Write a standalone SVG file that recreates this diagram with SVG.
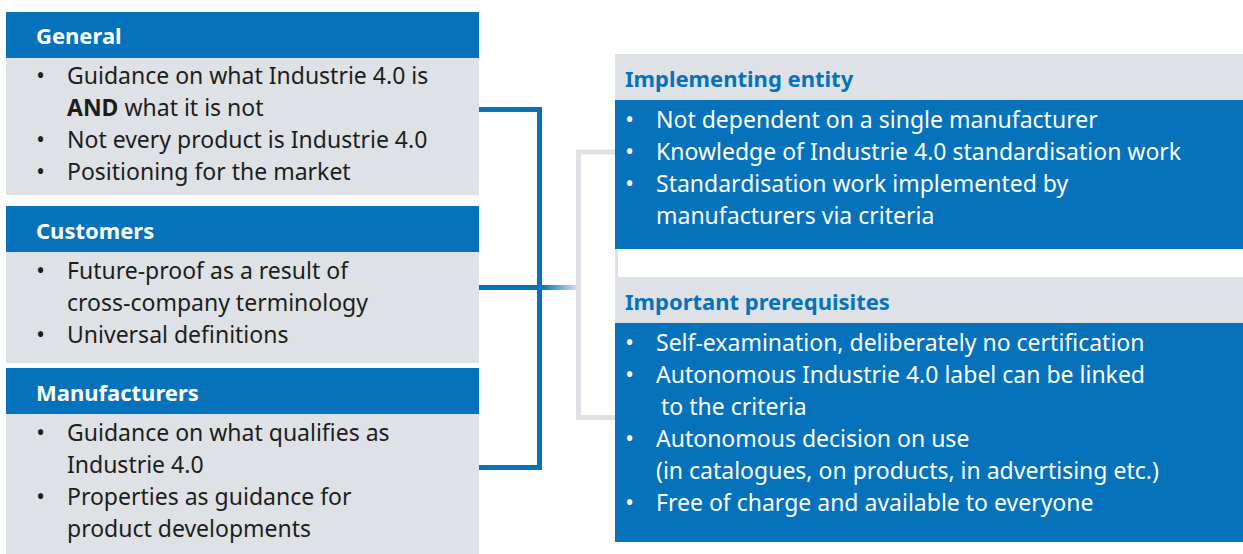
<svg xmlns="http://www.w3.org/2000/svg" width="1243" height="554" viewBox="0 0 1243 554">
<style>
.hb{fill:#0572bb}
.gb{fill:#dee2e6}
.ht{font-family:"Noto Sans","Open Sans",sans-serif;font-size:22px;font-weight:bold;fill:#ffffff}
.htb{font-family:"Noto Sans","Open Sans",sans-serif;font-size:22px;font-weight:bold;fill:#0572bb}
.t{font-family:"Noto Sans","Open Sans",sans-serif;font-size:23px;fill:#1d1d1b}
.tw{font-family:"Noto Sans","Open Sans",sans-serif;font-size:23px;fill:#ffffff}
.b{text-anchor:middle}
</style>
<defs>
<linearGradient id="fade" x1="0" y1="0" x2="1" y2="0">
<stop offset="0" stop-color="#0572bb"/>
<stop offset="1" stop-color="#dee2e6"/>
</linearGradient>
</defs>
<rect width="1243" height="554" fill="#ffffff"/>
<g id="connectors">
<path d="M479,109.5 H539.5 V467.5 H479" fill="none" stroke="#0572bb" stroke-width="5"/>
<path d="M479,287.5 H542" fill="none" stroke="#0572bb" stroke-width="5"/>
<rect x="542" y="285" width="36" height="5" fill="url(#fade)"/>
<path d="M615,152 H578.5 V417.5 H615" fill="none" stroke="#dee2e6" stroke-width="5"/>
<rect x="615" y="249" width="3" height="28" fill="#dee2e6"/>
</g>
<g id="general">
<rect class="hb" x="6" y="12" width="473" height="46"/>
<rect class="gb" x="6" y="58" width="473" height="137"/>
<text class="ht" x="36" y="43.5">General</text>
<text class="t b" x="40.5" y="84">•</text>
<text class="t" x="67" y="84">Guidance on what Industrie 4.0 is</text>
<text class="t" x="67" y="116"><tspan font-weight="bold">AND</tspan> what it is not</text>
<text class="t b" x="40.5" y="148">•</text>
<text class="t" x="67" y="148">Not every product is Industrie 4.0</text>
<text class="t b" x="40.5" y="180">•</text>
<text class="t" x="67" y="180">Positioning for the market</text>
</g>
<g id="customers">
<rect class="hb" x="6" y="206" width="473" height="46"/>
<rect class="gb" x="6" y="252" width="473" height="111"/>
<text class="ht" x="36" y="238.5">Customers</text>
<text class="t b" x="40.5" y="278.5">•</text>
<text class="t" x="67" y="278.5">Future-proof as a result of</text>
<text class="t" x="67" y="310.5">cross-company terminology</text>
<text class="t b" x="40.5" y="343">•</text>
<text class="t" x="67" y="343">Universal definitions</text>
</g>
<g id="manufacturers">
<rect class="hb" x="6" y="368" width="473" height="46"/>
<rect class="gb" x="6" y="414" width="473" height="140"/>
<text class="ht" x="36" y="400.5">Manufacturers</text>
<text class="t b" x="40.5" y="441">•</text>
<text class="t" x="67" y="441">Guidance on what qualifies as</text>
<text class="t" x="67" y="473">Industrie 4.0</text>
<text class="t b" x="40.5" y="505">•</text>
<text class="t" x="67" y="505">Properties as guidance for</text>
<text class="t" x="67" y="537">product developments</text>
</g>
<g id="implementing-entity">
<rect class="gb" x="615" y="54" width="628" height="46"/>
<rect class="hb" x="615" y="100" width="628" height="149"/>
<text class="htb" x="625" y="87">Implementing entity</text>
<text class="tw b" x="629.5" y="127.5">•</text>
<text class="tw" x="656" y="127.5">Not dependent on a single manufacturer</text>
<text class="tw b" x="629.5" y="159.5">•</text>
<text class="tw" x="656" y="159.5">Knowledge of Industrie 4.0 standardisation work</text>
<text class="tw b" x="629.5" y="191.5">•</text>
<text class="tw" x="656" y="191.5">Standardisation work implemented by</text>
<text class="tw" x="656" y="223.5">manufacturers via criteria</text>
</g>
<g id="important-prerequisites">
<rect class="gb" x="615" y="277" width="628" height="46"/>
<rect class="hb" x="615" y="323" width="628" height="219"/>
<text class="htb" x="625" y="310">Important prerequisites</text>
<text class="tw b" x="629.5" y="350.5">•</text>
<text class="tw" x="656" y="350.5">Self-examination, deliberately no certification</text>
<text class="tw b" x="629.5" y="382.5">•</text>
<text class="tw" x="656" y="382.5">Autonomous Industrie 4.0 label can be linked</text>
<text class="tw" x="661" y="414.5">to the criteria</text>
<text class="tw b" x="629.5" y="446.5">•</text>
<text class="tw" x="656" y="446.5">Autonomous decision on use</text>
<text class="tw" x="656" y="478.5">(in catalogues, on products, in advertising etc.)</text>
<text class="tw b" x="629.5" y="510.5">•</text>
<text class="tw" x="656" y="510.5">Free of charge and available to everyone</text>
</g>
</svg>
